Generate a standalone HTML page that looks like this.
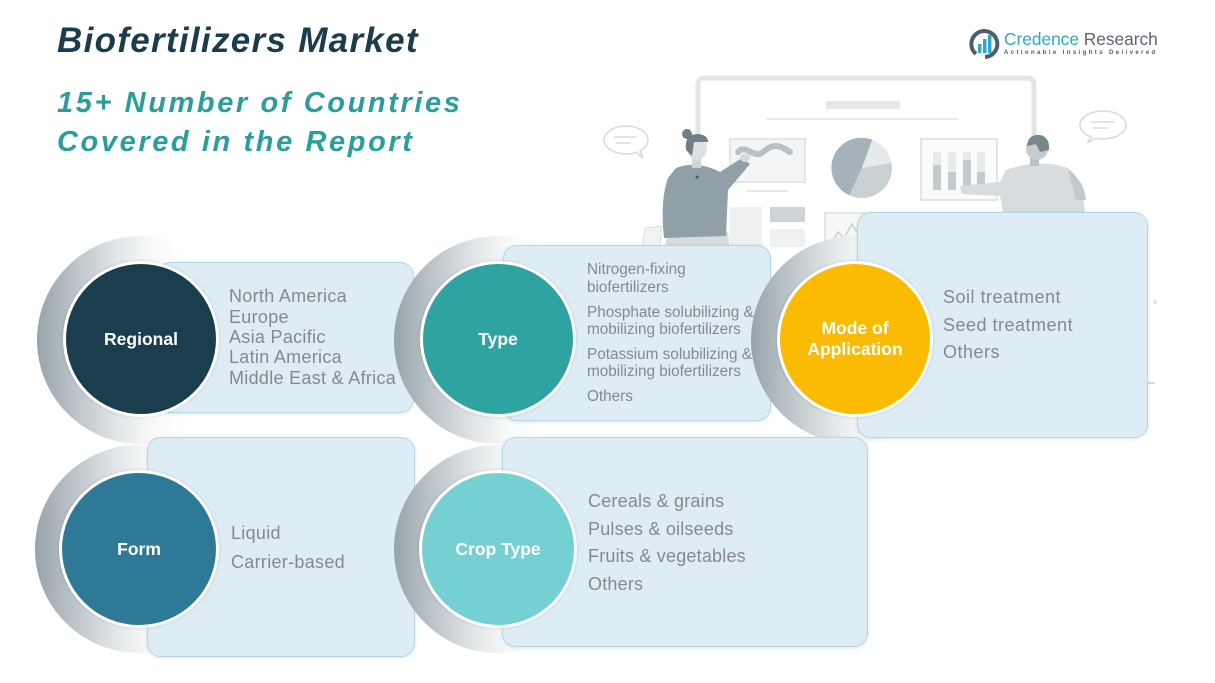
<!DOCTYPE html>
<html>
<head>
<meta charset="utf-8">
<style>
  html,body{margin:0;padding:0;}
  body{width:1215px;height:683px;position:relative;overflow:hidden;background:#ffffff;font-family:"Liberation Sans",sans-serif;}
  .abs{position:absolute;}
  .title{left:57px;top:23px;font-size:35px;line-height:35px;font-weight:bold;font-style:italic;color:#1b3c4c;letter-spacing:1.3px;white-space:nowrap;}
  .sub{left:57px;top:84px;font-size:29px;line-height:39px;font-weight:bold;font-style:italic;color:#2a9e9b;letter-spacing:2.6px;white-space:nowrap;}
  .cres{position:absolute;width:208px;height:208px;border-radius:50%;
        background:linear-gradient(to right,#97a4ab 0%,#bfc7cc 20%,#e4e8ea 40%,#f8f9f9 55%,#ffffff 70%);}
  .box{position:absolute;background:#deedf5;border:1.5px solid #b6d6e5;border-radius:14px;box-sizing:border-box;box-shadow:0 1px 3px rgba(120,150,170,0.25);}
  .circ{position:absolute;border-radius:50%;border:3px solid #ffffff;box-sizing:border-box;display:flex;align-items:center;justify-content:center;text-align:center;color:#ffffff;font-weight:bold;font-size:17.5px;line-height:21px;box-shadow:0 0 3px rgba(0,0,0,0.15);}
  .t{position:absolute;color:#878889;white-space:nowrap;font-size:18px;line-height:20px;}
  .s{position:absolute;color:#878889;white-space:nowrap;font-size:15.3px;line-height:18px;}
</style>
</head>
<body>

<!-- background illustration -->
<svg class="abs" style="left:0;top:0" width="1215" height="683" viewBox="0 0 1215 683">
  <rect x="698" y="78" width="336" height="306" rx="6" fill="#ffffff" stroke="#e2e4e5" stroke-width="5"/>
  <rect x="826" y="101" width="74" height="8" fill="#e5e8e9"/>
  <line x1="767" y1="119" x2="958" y2="119" stroke="#e6e8e9" stroke-width="2"/>
  <rect x="730" y="139" width="75" height="43" fill="#f4f5f6" stroke="#e3e5e6" stroke-width="2"/>
  <path d="M738,152 C746,143 754,160 763,152 S778,144 790,152" fill="none" stroke="#b8c0c5" stroke-width="6" stroke-linecap="round"/>
  <line x1="747" y1="191" x2="788" y2="191" stroke="#e4e6e7" stroke-width="2"/>
  <rect x="730" y="207" width="32" height="40" fill="#eef0f1"/>
  <rect x="770" y="207" width="35" height="15" fill="#cdd3d6"/>
  <rect x="770" y="229" width="35" height="18" fill="#eef0f1"/>
  <rect x="825" y="213" width="40" height="38" fill="#f7f8f8" stroke="#e3e5e6" stroke-width="2"/>
  <path d="M831,244 L838,232 L844,238 L852,224 L858,234" fill="none" stroke="#c9cfd2" stroke-width="1.5"/>
  <path d="M862,168 L849.3,195.2 A30,30 0 0 1 872.3,139.8 Z" fill="#a6b2b9"/>
  <path d="M862,168 L872.3,139.8 A30,30 0 0 1 891.5,162.8 Z" fill="#e7eaec"/>
  <path d="M862,168 L891.5,162.8 A30,30 0 0 1 849.3,195.2 Z" fill="#c9d0d4"/>
  <rect x="921" y="139" width="76" height="61" fill="#fafbfb" stroke="#e3e5e6" stroke-width="2"/>
  <rect x="933" y="152" width="8" height="38" fill="#e8ebec"/><rect x="933" y="165" width="8" height="25" fill="#c3cbcf"/>
  <rect x="948" y="152" width="8" height="38" fill="#e8ebec"/><rect x="948" y="172" width="8" height="18" fill="#c3cbcf"/>
  <rect x="963" y="152" width="8" height="38" fill="#e8ebec"/><rect x="963" y="160" width="8" height="30" fill="#c3cbcf"/>
  <rect x="977" y="152" width="8" height="38" fill="#e8ebec"/><rect x="977" y="172" width="8" height="18" fill="#c3cbcf"/>
  <ellipse cx="626" cy="140" rx="22" ry="14" fill="#fff" stroke="#d6dadc" stroke-width="1.5"/>
  <path d="M636,152 L643,158 L640,150" fill="#fff" stroke="#d6dadc" stroke-width="1.5"/>
  <line x1="614" y1="137" x2="636" y2="137" stroke="#d6dadc" stroke-width="1.5"/>
  <line x1="616" y1="143" x2="630" y2="143" stroke="#d6dadc" stroke-width="1.5"/>
  <ellipse cx="1103" cy="125" rx="23" ry="14" fill="#fff" stroke="#d6dadc" stroke-width="1.5"/>
  <path d="M1092,137 L1087,143 L1097,138" fill="#fff" stroke="#d6dadc" stroke-width="1.5"/>
  <line x1="1091" y1="122" x2="1114" y2="122" stroke="#d6dadc" stroke-width="1.5"/>
  <line x1="1093" y1="128" x2="1108" y2="128" stroke="#d6dadc" stroke-width="1.5"/>
  <path d="M645,228 L662,226 L660,246 L642,246 Z" fill="#f1f2f3" stroke="#dde0e2" stroke-width="1"/>
  <path d="M668,232 L728,232 L730,250 L664,250 Z" fill="#d6dbde"/>
  <path d="M676,168 Q697,160 720,172 L742,158 L750,164 L728,190 L726,236 L664,238 Q660,200 668,178 Z" fill="#909fa8"/>
  <ellipse cx="745" cy="158" rx="5" ry="4" fill="#d4d9dc"/>
  <rect x="692" y="156" width="9" height="12" fill="#cfd5d8"/>
  <ellipse cx="697" cy="148" rx="10" ry="12" fill="#dde1e3"/>
  <path d="M686,150 Q684,134 698,134 Q708,135 708,142 L694,142 L692,156 Z" fill="#6f7e87"/>
  <circle cx="687" cy="134" r="5" fill="#6f7e87"/>
  <circle cx="697" cy="177" r="1.5" fill="#4e5b62"/>
  <path d="M1006,170 Q1040,158 1068,168 Q1082,178 1085,212 L1003,212 L1000,196 L962,194 L960,186 L1000,182 Z" fill="#d7dcdf"/>
  <path d="M1068,170 Q1084,180 1086,200 L1076,200 Z" fill="#c2c9cd"/>
  <rect x="1030" y="156" width="9" height="10" fill="#b9c2c7"/>
  <circle cx="1037" cy="149" r="11" fill="#c4ccd0"/>
  <path d="M1027,146 Q1028,134 1040,135 Q1050,137 1049,150 L1040,152 L1036,144 Z" fill="#78868e"/>
  <line x1="770" y1="383" x2="1155" y2="383" stroke="#d8dcde" stroke-width="2"/>
  <circle cx="1155" cy="302" r="2" fill="#e2e5e6"/>
</svg>

<div class="abs title">Biofertilizers Market</div>
<div class="abs sub">15+ Number of Countries<br>Covered in the Report</div>

<!-- logo -->
<svg class="abs" style="left:968px;top:27px" width="36" height="34" viewBox="0 0 36 34">
  <path d="M8,27 A13,13 0 1 1 17,30" fill="none" stroke="#4b5e6b" stroke-width="4"/>
  <rect x="10" y="17" width="3.5" height="9" fill="#2fa8c8"/>
  <rect x="15" y="12" width="3.5" height="14" fill="#2fa8c8"/>
  <rect x="20" y="8" width="3.5" height="18" fill="#2fa8c8"/>
</svg>
<div class="abs" style="left:1004px;top:29px;font-size:17.3px;line-height:20px;white-space:nowrap;"><span style="color:#2fa8c8">Credence</span> <span style="color:#5b6670">Research</span></div>
<div class="abs" style="left:1004px;top:49px;font-size:6px;line-height:8px;white-space:nowrap;color:#4b5e6b;letter-spacing:2.4px;font-weight:bold;">Actionable Insights Delivered</div>

<!-- Regional -->
<div class="cres" style="left:37px;top:236px;"></div>
<div class="box" style="left:157px;top:262px;width:257px;height:151px;"></div>
<div class="circ" style="left:63px;top:261px;width:156px;height:156px;background:#1a3e4d;">Regional</div>
<div class="t" style="left:229px;top:286px;letter-spacing:0.3px;">North America</div>
<div class="t" style="left:229px;top:307px;letter-spacing:0.3px;">Europe</div>
<div class="t" style="left:229px;top:327px;letter-spacing:0.3px;">Asia Pacific</div>
<div class="t" style="left:229px;top:347px;letter-spacing:0.3px;">Latin America</div>
<div class="t" style="left:229px;top:368px;letter-spacing:0.3px;">Middle East &amp; Africa</div>

<!-- Type -->
<div class="cres" style="left:394px;top:236px;"></div>
<div class="box" style="left:503px;top:245px;width:268px;height:176px;"></div>
<div class="circ" style="left:420px;top:261px;width:156px;height:156px;background:#2fa3a2;">Type</div>
<div class="s" style="left:587px;top:261px;">Nitrogen-fixing</div>
<div class="s" style="left:587px;top:279px;">biofertilizers</div>
<div class="s" style="left:587px;top:304px;">Phosphate solubilizing &amp;</div>
<div class="s" style="left:587px;top:321px;">mobilizing biofertilizers</div>
<div class="s" style="left:587px;top:346px;">Potassium solubilizing &amp;</div>
<div class="s" style="left:587px;top:363px;">mobilizing biofertilizers</div>
<div class="s" style="left:587px;top:388px;">Others</div>

<!-- Mode of Application -->
<div class="cres" style="left:751px;top:236px;"></div>
<div class="box" style="left:857px;top:212px;width:291px;height:226px;"></div>
<div class="circ" style="left:777px;top:261px;width:156px;height:156px;background:#fbbb03;">Mode of<br>Application</div>
<div class="t" style="left:943px;top:287px;letter-spacing:0.5px;">Soil treatment</div>
<div class="t" style="left:943px;top:315px;letter-spacing:0.5px;">Seed treatment</div>
<div class="t" style="left:943px;top:342px;letter-spacing:0.5px;">Others</div>

<!-- Form -->
<div class="cres" style="left:35px;top:445px;"></div>
<div class="box" style="left:147px;top:437px;width:268px;height:220px;"></div>
<div class="circ" style="left:59px;top:470px;width:160px;height:158px;background:#2e7898;">Form</div>
<div class="t" style="left:231px;top:523px;letter-spacing:0.3px;">Liquid</div>
<div class="t" style="left:231px;top:552px;letter-spacing:0.3px;">Carrier-based</div>

<!-- Crop Type -->
<div class="cres" style="left:394px;top:445px;"></div>
<div class="box" style="left:502px;top:437px;width:366px;height:210px;"></div>
<div class="circ" style="left:419px;top:470px;width:158px;height:158px;background:#74d0d3;">Crop Type</div>
<div class="t" style="left:588px;top:491px;letter-spacing:0.2px;">Cereals &amp; grains</div>
<div class="t" style="left:588px;top:519px;letter-spacing:0.2px;">Pulses &amp; oilseeds</div>
<div class="t" style="left:588px;top:546px;letter-spacing:0.2px;">Fruits &amp; vegetables</div>
<div class="t" style="left:588px;top:574px;letter-spacing:0.2px;">Others</div>

</body>
</html>
